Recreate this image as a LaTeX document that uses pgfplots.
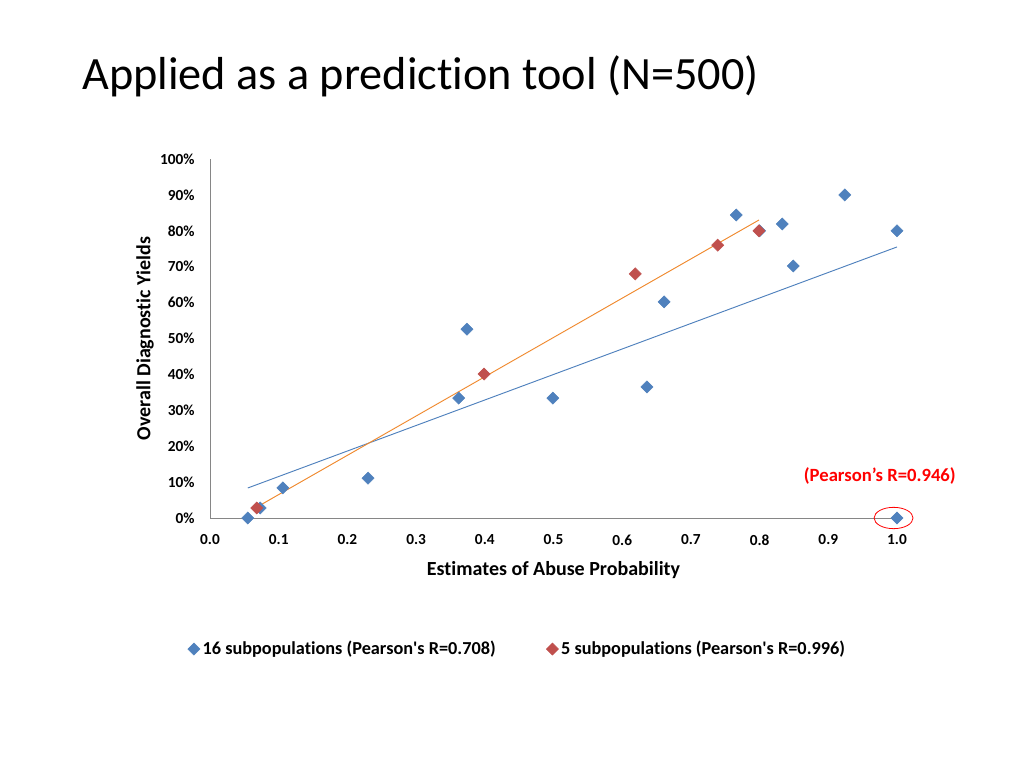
\documentclass[border=0pt]{standalone}
\usepackage{pgfplots}
\pgfplotsset{compat=1.18}
\usepackage{fontspec}
\setmainfont{Carlito}[Ligatures={TeX,NoCommon}]
\definecolor{ptblue}{HTML}{4F81BD}
\definecolor{ptred}{HTML}{C0504D}
\definecolor{trorange}{HTML}{F0892E}
\definecolor{axgray}{HTML}{868686}
\begin{document}
\begin{tikzpicture}
  \fill[white] (0,0) rectangle (768pt,576pt);
  \useasboundingbox (0,0) rectangle (768pt,576pt);
  % title
  \node[anchor=base west, inner sep=0pt, font=\fontsize{34.7}{40}\selectfont] at (61.5pt,508.5pt)
    {Applied as a prediction tool (N=500)};
  \begin{axis}[
      at={(157.5pt,187.5pt)}, anchor=south west,
      scale only axis, width=515.25pt, height=269.25pt,
      xmin=0, xmax=1, ymin=0, ymax=1,
      axis lines=left, axis line style={axgray, -},
      major tick length=0pt,
      xtick={0,0.1,0.2,0.3,0.4,0.5,0.6,0.7,0.8,0.9,1.0},
      xticklabels={0.0,0.1,0.2,0.3,0.4,0.5,0.6,0.7,0.8,0.9,1.0},
      ytick={0,0.1,0.2,0.3,0.4,0.5,0.6,0.7,0.8,0.9,1.0},
      yticklabels={0\%,10\%,20\%,30\%,40\%,50\%,60\%,70\%,80\%,90\%,100\%},
      tick label style={font=\bfseries\fontsize{11.5}{13}\selectfont},
      xticklabel style={yshift=-9pt},
      yticklabel style={xshift=-8pt},
      xlabel={Estimates of Abuse Probability},
      ylabel={Overall Diagnostic Yields},
      label style={font=\bfseries\fontsize{15}{17}\selectfont},
      xlabel style={yshift=-5pt},
      ylabel style={yshift=-2pt},
      clip=false,
      legend columns=2,
      legend style={at={(0.448,-0.365)}, anchor=center, draw=none,
        font=\bfseries\fontsize{13.7}{16}\selectfont,
        /tikz/every even column/.append style={column sep=36pt}},
      legend image code/.code={\draw[#1] plot coordinates {(0pt,0pt)};},
    ]
    % trend lines
    \addplot[ptblue, line width=0.7pt, forget plot] coordinates {(0.055,0.0836) (1.0,0.755)};
    \addplot[trorange, line width=0.7pt, forget plot] coordinates {(0.066,0.028) (0.799,0.830)};
    % 16 subpopulations
    \addplot[only marks, mark=square*, mark size=3.2pt,
      mark options={rotate=45, fill=ptblue, draw=ptblue}] coordinates {
      (0.055,0.000) (0.073,0.028) (0.106,0.084) (0.230,0.111)
      (0.362,0.334) (0.374,0.526) (0.499,0.334) (0.636,0.365)
      (0.661,0.602) (0.766,0.844) (0.800,0.800) (0.833,0.819)
      (0.849,0.702) (0.924,0.900) (1.000,0.800) (1.000,0.000)
    };
    \addlegendentry{16 subpopulations (Pearson\textquotesingle s R=0.708)}
    % 5 subpopulations
    \addplot[only marks, mark=square*, mark size=3.2pt,
      mark options={rotate=45, fill=ptred, draw=ptred}] coordinates {
      (0.068,0.028) (0.399,0.401) (0.619,0.680) (0.739,0.760) (0.799,0.800)
    };
    \addlegendentry{5 subpopulations (Pearson\textquotesingle s R=0.996)}
    \draw[red, line width=0.6pt] (axis cs:0.995,0) ellipse [x radius=14.6pt, y radius=8pt];
    \node[red, font=\bfseries\fontsize{14}{16}\selectfont] at (axis cs:0.975,0.117)
      {(Pearson’s R=0.946)};
  \end{axis}
\end{tikzpicture}
\end{document}
